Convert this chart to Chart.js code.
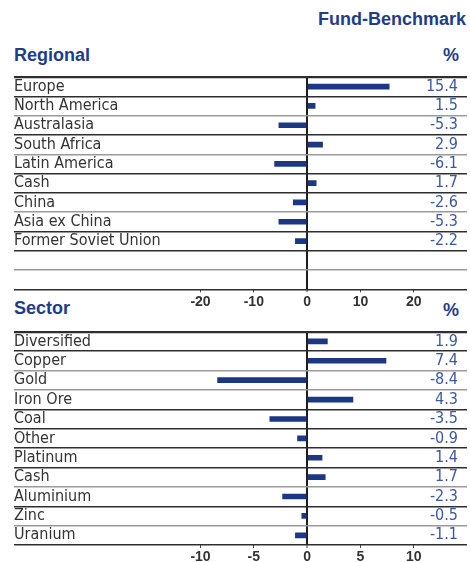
<!DOCTYPE html>
<html><head><meta charset="utf-8">
<script src="https://cdn.jsdelivr.net/npm/chart.js@4/dist/chart.umd.min.js"></script>
<style>
html,body{margin:0;padding:0;background:#fff;width:470px;height:562px;overflow:hidden;}
.t{position:absolute;font-family:'Liberation Sans',Arial,sans-serif;font-weight:bold;color:#1f3d8c;font-size:18px;line-height:1;white-space:nowrap;}
#c1w{position:absolute;left:0;top:0;width:470px;height:320px;}
#c2w{position:absolute;left:0;top:320px;width:470px;height:242px;}
</style></head><body>
<div class="t" style="right:4px;top:9.8px">Fund-Benchmark</div>
<div class="t" style="left:14px;top:45.8px">Regional</div>
<div class="t" style="right:11px;top:45.8px">%</div>
<div class="t" style="left:14px;top:298.8px">Sector</div>
<div class="t" style="right:11px;top:300.8px">%</div>
<div id="c1w"><canvas id="c1"></canvas></div>
<div id="c2w"><canvas id="c2"></canvas></div>
<script>
// ---- data ----
const regionCategories = ['Europe','North America','Australasia','South Africa','Latin America','Cash','China','Asia ex China','Former Soviet Union','',''];
const regionValues = [15.4, 1.5, -5.3, 2.9, -6.1, 1.7, -2.6, -5.3, -2.2, null, null];
const regionTicks = [-20, -10, 0, 10, 20];
const sectorCategories = ['Diversified','Copper','Gold','Iron Ore','Coal','Other','Platinum','Cash','Aluminium','Zinc','Uranium'];
const sectorValues = [1.9, 7.4, -8.4, 4.3, -3.5, -0.9, 1.4, 1.7, -2.3, -0.5, -1.1];
const sectorTicks = [-10, -5, 0, 5, 10];

// ---- styles ----
const NARROW = "'Liberation Sans Narrow','DejaVu Sans Condensed','Arial Narrow',sans-serif";
const BAR = '#1c3784';
const BLUE_TXT = '#3a58a8';
const DARK = '#2e2e2e';
const GREY = '#9a9a9a';
const regionLineStyle = ['d','d','g','d','g','d','d','g','d','d','g','d'];
const sectorLineStyle = ['d','d','g','g','d','d','d','d','g','d','g','d'];

function makeChart(id, cats, vals, ticks, xmin, xmax, padTop, xAxisH, lineStyle) {
  const valueLabels = vals.map(v => v == null ? '' : v.toFixed(1));
  return new Chart(document.getElementById(id), {
    type: 'bar',
    data: {
      labels: cats,
      datasets: [{
        data: vals,
        backgroundColor: BAR,
        borderWidth: 0,
        barThickness: 5,
        xAxisID: 'x',
        yAxisID: 'y'
      }]
    },
    options: {
      indexAxis: 'y',
      responsive: true,
      maintainAspectRatio: false,
      devicePixelRatio: 1,
      animation: false,
      layout: { padding: { top: padTop, left: 14, right: 3, bottom: 0 } },
      plugins: { legend: { display: false }, tooltip: { enabled: false } },
      scales: {
        x: {
          type: 'linear',
          min: xmin, max: xmax,
          afterBuildTicks: s => { s.ticks = ticks.map(v => ({ value: v })); },
          grid: {
            color: c => (c.tick && c.tick.value === 0) ? '#1e1e1e' : 'rgba(0,0,0,0)',
            lineWidth: c => (c.tick && c.tick.value === 0) ? 2 : 1,
            tickColor: '#444',
            tickWidth: 1,
            tickLength: 3
          },
          border: { display: false },
          ticks: {
            color: '#333',
            font: { family: "'Liberation Sans',Arial,sans-serif", weight: 'bold', size: 14 },
            padding: 1,
            autoSkip: false,
            maxRotation: 0
          },
          afterFit: s => { s.height = xAxisH; }
        },
        y: {
          type: 'category',
          position: 'left',
          offset: true,
          grid: {
            offset: true,
            drawTicks: false,
            color: c => lineStyle[c.index] === 'g' ? GREY : DARK,
            lineWidth: c => c.index === 0 ? 2.2 : 1.4
          },
          border: { display: false },
          ticks: {
            mirror: true,
            padding: 0,
            color: '#333',
            autoSkip: false,
            font: { family: NARROW, size: 16 }
          },
          afterFit: s => { s.width = 0; }
        },
        yv: {
          type: 'category',
          labels: valueLabels,
          position: 'right',
          offset: true,
          grid: { display: false, drawTicks: false },
          border: { display: false },
          ticks: {
            mirror: true,
            padding: -9,
            color: BLUE_TXT,
            autoSkip: false,
            font: { family: NARROW, size: 16 }
          },
          afterFit: s => { s.width = 0; }
        }
      }
    }
  });
}

makeChart('c1', regionCategories, regionValues, regionTicks, -55, 30, 77, 30.7, regionLineStyle);
makeChart('c2', sectorCategories, sectorValues, sectorTicks, -27.5, 15, 11.7, 17, sectorLineStyle);
</script>
</body></html>
